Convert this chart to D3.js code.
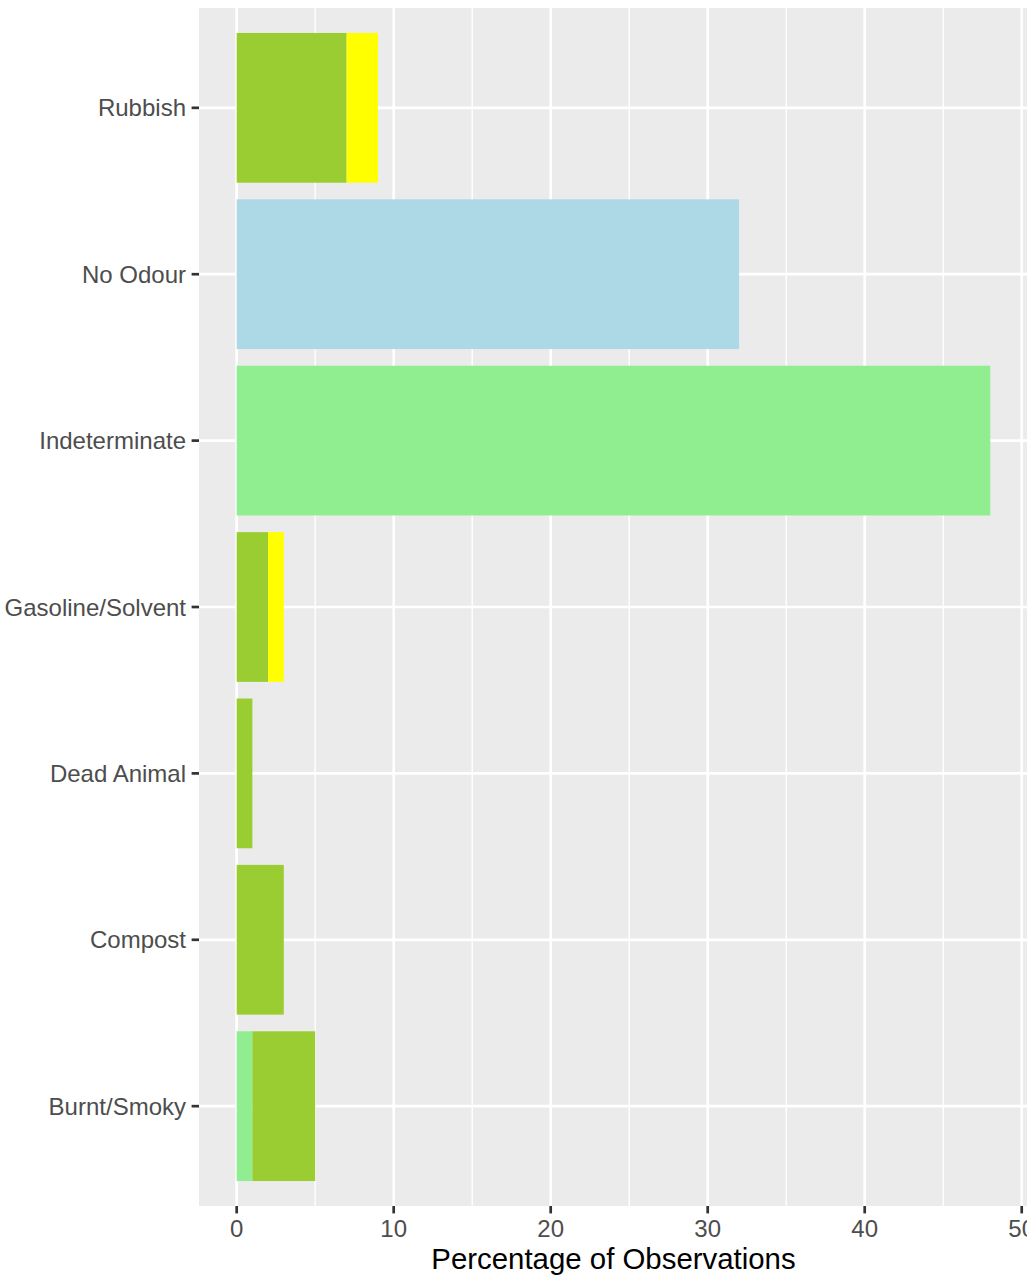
<!DOCTYPE html>
<html>
<head>
<meta charset="utf-8">
<script src="https://cdn.jsdelivr.net/npm/d3@7"></script>
<style>
  body { margin: 0; background: #fff; }
  text { font-family: "Liberation Sans", Arial, sans-serif; }
</style>
</head>
<body>
<svg id="chart" width="1027" height="1276"></svg>
<script>
// odour categories, bottom to top as in the picture
var categories = ["Burnt/Smoky", "Compost", "Dead Animal", "Gasoline/Solvent", "Indeterminate", "No Odour", "Rubbish"];

// stacked series (left to right inside a bar)
var seriesNames = ["lightgreen", "yellowgreen", "yellow", "lightblue"];
var seriesColors = ["#90EE90", "#9ACD32", "#FFFF00", "#ADD8E6"];
var lightgreenVals  = [1, 0, 0, 0, 48, 0, 0];
var yellowgreenVals = [4, 3, 1, 2, 0, 0, 7];
var yellowVals      = [0, 0, 0, 1, 0, 0, 2];
var lightblueVals   = [0, 0, 0, 0, 0, 32, 0];

var xTicks = [0, 10, 20, 30, 40, 50];
var xMinor = [5, 15, 25, 35, 45];

var rows = categories.map(function (c, i) {
    return {
        category: c,
        lightgreen: lightgreenVals[i],
        yellowgreen: yellowgreenVals[i],
        yellow: yellowVals[i],
        lightblue: lightblueVals[i]
    };
});

var svg = d3.select("#chart");

var panel = { left: 199, top: 8, right: 1028, bottom: 1206 };

var stack = d3.stack().keys(seriesNames);
var stacked = stack(rows);
var maxVal = d3.max(stacked[stacked.length - 1], function (d) { return d[1]; });
var pad = maxVal * 0.05;

var x = d3.scaleLinear()
    .domain([-pad, maxVal + pad])
    .range([panel.left, panel.right]);

// discrete axis, ggplot style: 0.6 units of padding each side
var yPos = d3.scaleLinear()
    .domain([0.4, categories.length + 0.6])
    .range([panel.bottom, panel.top]);
var bandH = (panel.bottom - panel.top) / (categories.length + 0.2) * 0.9;

var color = d3.scaleOrdinal().domain(seriesNames).range(seriesColors);

// panel background
svg.append("rect")
    .attr("x", panel.left)
    .attr("y", panel.top)
    .attr("width", panel.right - panel.left)
    .attr("height", panel.bottom - panel.top)
    .attr("fill", "#EBEBEB");

// minor grid
svg.append("g").selectAll("line")
    .data(xMinor)
    .enter().append("line")
    .attr("x1", x).attr("x2", x)
    .attr("y1", panel.top).attr("y2", panel.bottom)
    .attr("stroke", "#fff").attr("stroke-width", 1.35);

// major grid
svg.append("g").selectAll("line")
    .data(xTicks)
    .enter().append("line")
    .attr("x1", x).attr("x2", x)
    .attr("y1", panel.top).attr("y2", panel.bottom)
    .attr("stroke", "#fff").attr("stroke-width", 2.7);

svg.append("g").selectAll("line")
    .data(categories)
    .enter().append("line")
    .attr("x1", panel.left).attr("x2", panel.right)
    .attr("y1", function (d, i) { return yPos(i + 1); })
    .attr("y2", function (d, i) { return yPos(i + 1); })
    .attr("stroke", "#fff").attr("stroke-width", 2.7);

// bars
svg.append("g").selectAll("g")
    .data(stacked)
    .enter().append("g")
    .attr("fill", function (d) { return color(d.key); })
    .selectAll("rect")
    .data(function (d) { return d; })
    .enter().append("rect")
    .filter(function (d) { return d[1] - d[0] > 0; })
    .attr("x", function (d) { return x(d[0]); })
    .attr("width", function (d) { return x(d[1]) - x(d[0]); })
    .attr("y", function (d, i) { return yPos(categories.indexOf(d.data.category) + 1) - bandH / 2; })
    .attr("height", bandH);

// y axis ticks and labels
var yAxis = svg.append("g");
categories.forEach(function (c, i) {
    var yy = yPos(i + 1);
    yAxis.append("line")
        .attr("x1", panel.left - 7.4).attr("x2", panel.left)
        .attr("y1", yy).attr("y2", yy)
        .attr("stroke", "#333").attr("stroke-width", 2.7);
    yAxis.append("text")
        .attr("x", panel.left - 13)
        .attr("y", yy)
        .attr("dy", "0.36em")
        .attr("text-anchor", "end")
        .attr("fill", "#4D4D4D")
        .style("font-size", "24px")
        .text(c);
});

// x axis ticks and labels
var xAxis = svg.append("g");
xTicks.forEach(function (t) {
    xAxis.append("line")
        .attr("x1", x(t)).attr("x2", x(t))
        .attr("y1", panel.bottom).attr("y2", panel.bottom + 7.4)
        .attr("stroke", "#333").attr("stroke-width", 2.7);
    xAxis.append("text")
        .attr("x", x(t))
        .attr("y", panel.bottom + 31)
        .attr("text-anchor", "middle")
        .attr("fill", "#4D4D4D")
        .style("font-size", "24px")
        .text(t);
});

// axis title
svg.append("text")
    .attr("x", (panel.left + panel.right) / 2)
    .attr("y", 1269)
    .attr("text-anchor", "middle")
    .attr("fill", "#000")
    .style("font-size", "29.4px")
    .text("Percentage of Observations");
</script>
</body>
</html>
